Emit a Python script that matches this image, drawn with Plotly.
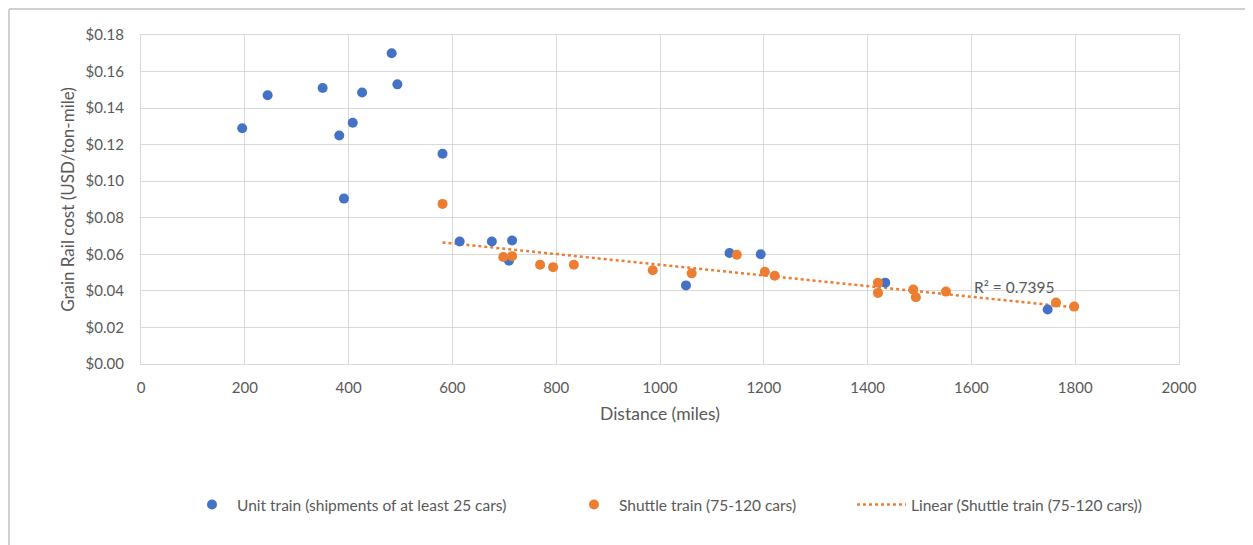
import numpy as np
import plotly.graph_objects as go

# ---- data ----
unit_x = [195, 244, 350, 426, 483, 494, 408, 382, 581, 391, 614, 676, 715, 709, 1050, 1134, 1194, 1434, 1747]
unit_y = [0.129, 0.147, 0.151, 0.1485, 0.170, 0.153, 0.132, 0.125, 0.115, 0.0905, 0.067, 0.067, 0.0676, 0.0565,
          0.043, 0.0607, 0.060, 0.0445, 0.0298]

shuttle_x = [581, 698, 715, 769, 794, 834, 986, 1061, 1148, 1202, 1221, 1420, 1420, 1488, 1493, 1551, 1763, 1798]
shuttle_y = [0.0876, 0.0585, 0.059, 0.0543, 0.053, 0.0543, 0.0513, 0.0496, 0.0598, 0.0505, 0.0483, 0.0445,
             0.0389, 0.0407, 0.0365, 0.0396, 0.0336, 0.0314]

x_ticks = [0, 200, 400, 600, 800, 1000, 1200, 1400, 1600, 1800, 2000]
y_ticks = [0.00, 0.02, 0.04, 0.06, 0.08, 0.10, 0.12, 0.14, 0.16, 0.18]
r2_label = "R² = 0.7395"

name_unit = "Unit train (shipments of at least 25 cars)"
name_shuttle = "Shuttle train (75-120 cars)"
name_linear = "Linear (Shuttle train (75-120 cars))"

# linear trendline through the shuttle data
slope, intercept = np.polyfit(shuttle_x, shuttle_y, 1)
trend_x = [min(shuttle_x), max(shuttle_x)]
trend_y = [slope * v + intercept for v in trend_x]

BLUE = "#4472C4"
ORANGE = "#ED7D31"
GRAY_TXT = "#595959"
GRID = "#D9D9D9"
FONT = "Lato"

fig = go.Figure()
fig.add_trace(go.Scatter(x=trend_x, y=trend_y, mode="lines", name=name_linear,
                         line=dict(color=ORANGE, width=2.5, dash="dot"), legend="legend3"))
fig.add_trace(go.Scatter(x=unit_x, y=unit_y, mode="markers", name=name_unit,
                         marker=dict(color=BLUE, size=10), legend="legend"))
fig.add_trace(go.Scatter(x=shuttle_x, y=shuttle_y, mode="markers", name=name_shuttle,
                         marker=dict(color=ORANGE, size=10), legend="legend2"))

# page has an 8px body margin, so the figure is 8px smaller than the window
W, H = 1245, 537
L, R, T, B = 133, 74, 27, 181
pw, ph = W - L - R, H - T - B


def px_x(p):
    return (p - L) / pw


def px_y(p):
    return (H - B - p) / ph


leg_common = dict(orientation="h", yanchor="middle", xanchor="left", y=px_y(497),
                  font=dict(family=FONT, size=15.5, color=GRAY_TXT), bgcolor="rgba(0,0,0,0)",
                  borderwidth=0)

fig.update_layout(
    width=W, height=H,
    margin=dict(l=L, r=R, t=T, b=B),
    paper_bgcolor="white", plot_bgcolor="white",
    font=dict(family=FONT, color=GRAY_TXT),
    legend=dict(leg_common, x=px_x(179), itemwidth=40),
    legend2=dict(leg_common, x=px_x(561), itemwidth=40),
    legend3=dict(leg_common, x=px_x(844), itemwidth=49),
    showlegend=True,
)

fig.update_xaxes(range=[0, 2000], tickvals=x_ticks, ticktext=[str(v) for v in x_ticks],
                 showgrid=True, gridcolor=GRID, gridwidth=1.3,
                 showline=True, linecolor=GRID, linewidth=1.3, mirror=True, zeroline=False,
                 ticks="outside", ticklen=10, tickcolor="rgba(0,0,0,0)",
                 tickfont=dict(family=FONT, size=15, color=GRAY_TXT),
                 title=dict(text="Distance (miles)", standoff=12,
                            font=dict(family=FONT, size=17.5, color=GRAY_TXT)))
fig.update_yaxes(range=[0, 0.18], tickvals=y_ticks, ticktext=[f"${v:.2f}" for v in y_ticks],
                 showgrid=True, gridcolor=GRID, gridwidth=1.3,
                 showline=True, linecolor=GRID, linewidth=1.3, mirror=True, zeroline=False,
                 ticks="outside", ticklen=13, tickcolor="rgba(0,0,0,0)",
                 tickfont=dict(family=FONT, size=15, color=GRAY_TXT),
                 title=dict(text="Grain Rail cost (USD/ton-mile)", standoff=6,
                            font=dict(family=FONT, size=17, color=GRAY_TXT)))

fig.add_annotation(x=1682, y=0.0422, text=r2_label, showarrow=False, xref="x", yref="y",
                   font=dict(family=FONT, size=15.5, color=GRAY_TXT))

# chart frame (cropped Excel chart border, top and left edges)
fig.add_shape(type="line", xref="paper", yref="paper", x0=px_x(1), x1=px_x(W + 5),
              y0=px_y(1), y1=px_y(1), line=dict(color="#D0D0D0", width=2))
fig.add_shape(type="line", xref="paper", yref="paper", x0=px_x(1), x1=px_x(1),
              y0=px_y(1), y1=px_y(H + 5), line=dict(color="#D0D0D0", width=2))

fig.write_html("out.html")
